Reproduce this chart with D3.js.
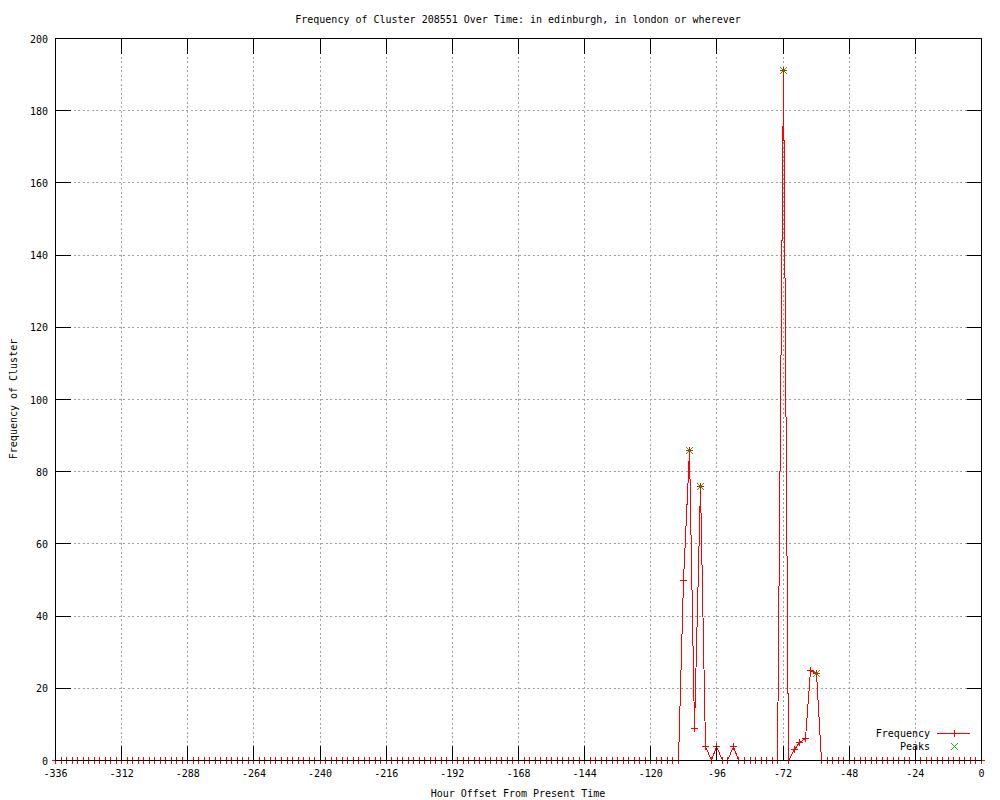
<!DOCTYPE html>
<html>
<head>
<meta charset="utf-8">
<script src="https://cdn.jsdelivr.net/npm/d3@7"></script>
<style>
  body { margin: 0; background: #fff; }
  text { font-family: "DejaVu Sans Mono", monospace; font-size: 10px; fill: #000; }
</style>
</head>
<body>
<svg id="chart"></svg>
<script>
// Hours (every 2h) and the cluster frequency at each hour
var hours = [
  -336, -334, -332, -330, -328, -326, -324, -322, -320, -318, -316, -314,
  -312, -310, -308, -306, -304, -302, -300, -298, -296, -294, -292, -290,
  -288, -286, -284, -282, -280, -278, -276, -274, -272, -270, -268, -266,
  -264, -262, -260, -258, -256, -254, -252, -250, -248, -246, -244, -242,
  -240, -238, -236, -234, -232, -230, -228, -226, -224, -222, -220, -218,
  -216, -214, -212, -210, -208, -206, -204, -202, -200, -198, -196, -194,
  -192, -190, -188, -186, -184, -182, -180, -178, -176, -174, -172, -170,
  -168, -166, -164, -162, -160, -158, -156, -154, -152, -150, -148, -146,
  -144, -142, -140, -138, -136, -134, -132, -130, -128, -126, -124, -122,
  -120, -118, -116, -114, -112, -110, -108, -106, -104, -102, -100, -98,
  -96, -94, -92, -90, -88, -86, -84, -82, -80, -78, -76, -74,
  -72, -70, -68, -66, -64, -62, -60, -58, -56, -54, -52, -50,
  -48, -46, -44, -42, -40, -38, -36, -34, -32, -30, -28, -26,
  -24, -22, -20, -18, -16, -14, -12, -10, -8, -6, -4, -2,
  0
];
var frequency = [
  0, 0, 0, 0, 0, 0, 0, 0, 0, 0, 0, 0,
  0, 0, 0, 0, 0, 0, 0, 0, 0, 0, 0, 0,
  0, 0, 0, 0, 0, 0, 0, 0, 0, 0, 0, 0,
  0, 0, 0, 0, 0, 0, 0, 0, 0, 0, 0, 0,
  0, 0, 0, 0, 0, 0, 0, 0, 0, 0, 0, 0,
  0, 0, 0, 0, 0, 0, 0, 0, 0, 0, 0, 0,
  0, 0, 0, 0, 0, 0, 0, 0, 0, 0, 0, 0,
  0, 0, 0, 0, 0, 0, 0, 0, 0, 0, 0, 0,
  0, 0, 0, 0, 0, 0, 0, 0, 0, 0, 0, 0,
  0, 0, 0, 0, 0, 0, 50, 86, 9, 76, 4, 0,
  4, 0, 0, 4, 0, 0, 0, 0, 0, 0, 0, 0,
  191, 0, 3, 5, 6, 25, 24, 0, 0, 0, 0, 0,
  0, 0, 0, 0, 0, 0, 0, 0, 0, 0, 0, 0,
  0, 0, 0, 0, 0, 0, 0, 0, 0, 0, 0, 0,
  0
];

// Peaks found in the series
var peakHours = [-106, -102, -72, -60];
var peakValues = [86, 76, 191, 24];

// Tick labels
var xTicks = [-336, -312, -288, -264, -240, -216, -192, -168, -144, -120, -96, -72, -48, -24, 0];
var yTicks = [0, 20, 40, 60, 80, 100, 120, 140, 160, 180, 200];

var width = 1000,
    height = 800,
    plotLeft = 55.5, plotRight = 981.5, plotTop = 38.5, plotBottom = 760.5,
    tickLen = 15;

var x = d3.scaleLinear().domain([-336, 0]).range([plotLeft, plotRight]);
var y = d3.scaleLinear().domain([0, 200]).range([plotBottom, plotTop]);

// snap to pixel centres so 1px lines stay sharp
function px(v) { return Math.round(v - 0.5) + 0.5; }

var svg = d3.select("#chart")
  .attr("width", width)
  .attr("height", height);

// grid
var grid = svg.append("g")
  .attr("stroke", "#a0a0a0")
  .attr("stroke-dasharray", "2,2.5")
  .attr("shape-rendering", "crispEdges");
grid.selectAll(".gx")
  .data(xTicks)
  .enter().append("line")
  .attr("x1", function (d) { return px(x(d)); })
  .attr("x2", function (d) { return px(x(d)); })
  .attr("y1", plotBottom).attr("y2", plotTop);
grid.selectAll(".gy")
  .data(yTicks)
  .enter().append("line")
  .attr("y1", function (d) { return px(y(d)); })
  .attr("y2", function (d) { return px(y(d)); })
  .attr("x1", plotLeft).attr("x2", plotRight);

// frequency line
var points = hours.map(function (h, i) { return [h, frequency[i]]; });
var line = d3.line()
  .x(function (d) { return px(x(d[0])); })
  .y(function (d) { return px(y(d[1])); });

svg.append("path")
  .datum(points)
  .attr("d", line)
  .attr("fill", "none")
  .attr("stroke", "#ff0000")
  .attr("stroke-width", 1)
  .attr("shape-rendering", "crispEdges");

// marker shapes
function plus(sel, cx, cy) {
  sel.append("path")
    .attr("d", "M" + (cx - 3.5) + "," + cy + "H" + (cx + 3.5) +
               "M" + cx + "," + (cy - 3.5) + "V" + (cy + 3.5))
    .attr("stroke", "#ff0000")
    .attr("fill", "none")
    .attr("shape-rendering", "crispEdges");
}
function cross(sel, cx, cy) {
  sel.append("path")
    .attr("d", "M" + (cx - 3.5) + "," + (cy - 3.5) + "L" + (cx + 3.5) + "," + (cy + 3.5) +
               "M" + (cx - 3.5) + "," + (cy + 3.5) + "L" + (cx + 3.5) + "," + (cy - 3.5))
    .attr("stroke", "#00c000")
    .attr("fill", "none")
    .attr("shape-rendering", "crispEdges");
}

var marks = svg.append("g");
points.forEach(function (d) {
  plus(marks, px(x(d[0])), px(y(d[1])));
});
peakHours.forEach(function (h, i) {
  cross(marks, px(x(h)), px(y(peakValues[i])));
});

// border and ticks
var axes = svg.append("g")
  .attr("stroke", "#000")
  .attr("shape-rendering", "crispEdges");
axes.append("rect")
  .attr("x", plotLeft).attr("y", plotTop)
  .attr("width", plotRight - plotLeft).attr("height", plotBottom - plotTop)
  .attr("fill", "none");
xTicks.forEach(function (d) {
  var tx = px(x(d));
  axes.append("line").attr("x1", tx).attr("x2", tx).attr("y1", plotBottom).attr("y2", plotBottom - tickLen);
  axes.append("line").attr("x1", tx).attr("x2", tx).attr("y1", plotTop).attr("y2", plotTop + tickLen);
});
yTicks.forEach(function (d) {
  var ty = px(y(d));
  axes.append("line").attr("y1", ty).attr("y2", ty).attr("x1", plotLeft).attr("x2", plotLeft + tickLen);
  axes.append("line").attr("y1", ty).attr("y2", ty).attr("x1", plotRight).attr("x2", plotRight - tickLen);
});

// tick labels
svg.selectAll(".xl")
  .data(xTicks)
  .enter().append("text")
  .attr("x", function (d) { return x(d); })
  .attr("y", 777)
  .attr("text-anchor", "middle")
  .text(function (d) { return d; });
svg.selectAll(".yl")
  .data(yTicks)
  .enter().append("text")
  .attr("x", 48)
  .attr("y", function (d) { return y(d) + 4; })
  .attr("text-anchor", "end")
  .text(function (d) { return d; });

// titles
svg.append("text")
  .attr("x", 518).attr("y", 23)
  .attr("text-anchor", "middle")
  .text("Frequency of Cluster 208551 Over Time: in edinburgh, in london or wherever");
svg.append("text")
  .attr("x", 518).attr("y", 797)
  .attr("text-anchor", "middle")
  .text("Hour Offset From Present Time");
svg.append("text")
  .attr("transform", "translate(17,399) rotate(-90)")
  .attr("text-anchor", "middle")
  .text("Frequency of Cluster");

// legend
var legend = svg.append("g");
legend.append("text")
  .attr("x", 930).attr("y", 737)
  .attr("text-anchor", "end")
  .text("Frequency");
legend.append("line")
  .attr("x1", 937).attr("x2", 970)
  .attr("y1", 733.5).attr("y2", 733.5)
  .attr("stroke", "#ff0000")
  .attr("shape-rendering", "crispEdges");
plus(legend, 954.5, 733.5);
legend.append("text")
  .attr("x", 930).attr("y", 750)
  .attr("text-anchor", "end")
  .text("Peaks");
cross(legend, 954.5, 746.5);
</script>
</body>
</html>
